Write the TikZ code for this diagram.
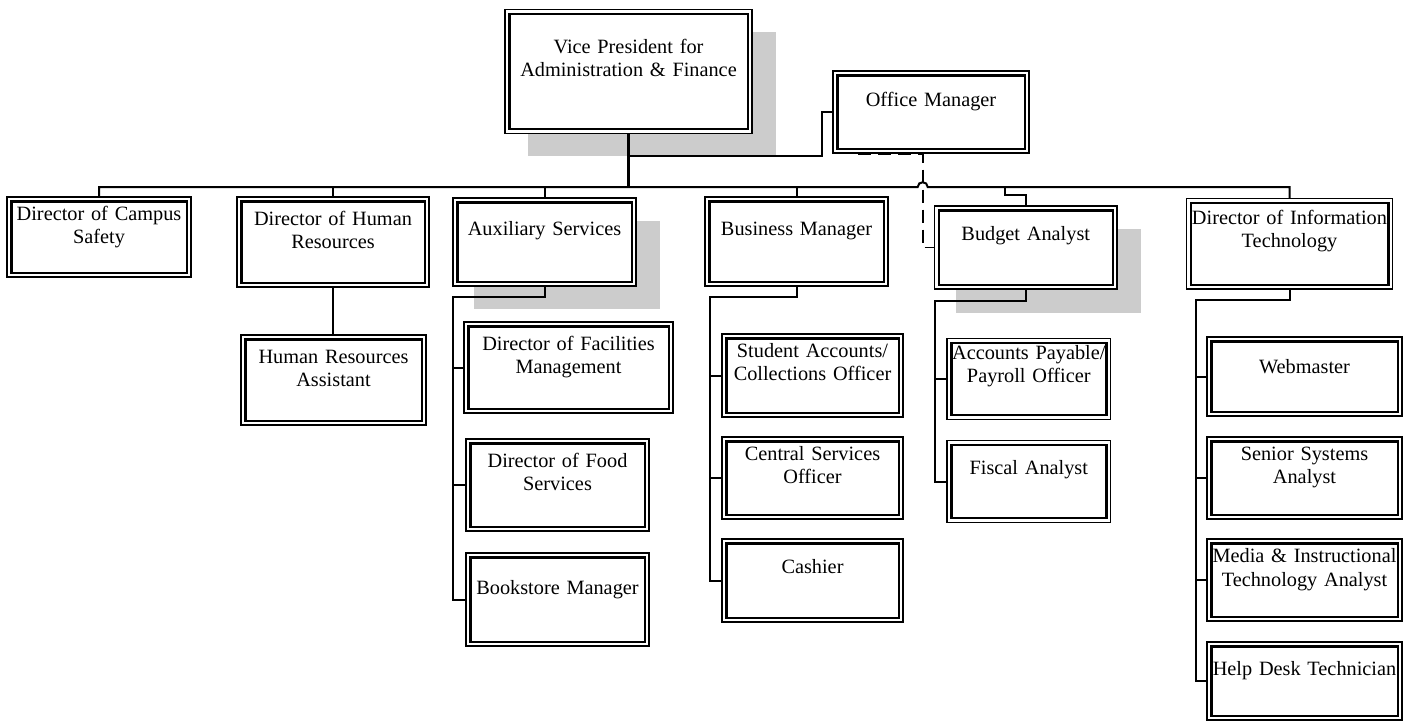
\documentclass[tikz,border=0pt]{standalone}
\usepackage{fontspec}
\setmainfont{Liberation Serif}
\begin{document}
\begin{tikzpicture}[x=1pt,y=-1pt,
  obox/.style={draw, line width=1.3pt, fill=white, rectangle, inner sep=0pt,
    path picture={\draw[line width=2.4pt] ([shift={(4.3pt,4.3pt)}]path picture bounding box.south west) rectangle ([shift={(-4.3pt,-4.3pt)}]path picture bounding box.north east);}},
  lbl/.style={anchor=base, align=center, text width=230pt, inner sep=0pt, font=\fontsize{20.3}{23.5}\selectfont},
  conn/.style={line width=2pt},
  shadowbox/.style={fill=gray!40, draw=none}]
\newcommand\orgbox[5]{\node[obox, minimum width={(#4)-(#2)}, minimum height={(#5)-(#3)}] (#1) at ({((#2)+(#4))/2},{((#3)+(#5))/2}) {};}
\useasboundingbox (0,0) rectangle (1414,721);
% shadows
\fill[shadowbox] (527.7,32.3) rectangle (775.7,155.7);
\fill[shadowbox] (474,221) rectangle (660,309);
\fill[shadowbox] (955.6,229) rectangle (1141,313);
% boxes
\orgbox{vp}{505}{9.5}{752}{133.5}
\orgbox{om}{833}{71}{1029}{153}
\orgbox{cs}{7}{197}{191}{277}
\orgbox{hr}{237}{197}{429}{287}
\orgbox{hra}{241}{335}{426}{425}
\orgbox{aux}{453}{198}{636}{286}
\orgbox{fac}{464}{322}{673}{413}
\orgbox{food}{466}{439}{649}{531}
\orgbox{book}{466}{553}{649}{646}
\orgbox{bm}{705}{197}{888}{286}
\orgbox{sa}{722}{334}{903}{417}
\orgbox{cso}{722}{437}{903}{519}
\orgbox{cash}{722}{539}{903}{622}
\orgbox{ba}{934.5}{206}{1117}{289}
\orgbox{ap}{947}{338.5}{1110.7}{419.3}
\orgbox{fis}{947}{440.7}{1110.7}{522.3}
\orgbox{dit}{1186.5}{198.7}{1392.6}{289}
\orgbox{web}{1207}{337}{1402}{416}
\orgbox{ssa}{1207}{437}{1402}{519}
\orgbox{mia}{1207}{539}{1402}{621}
\orgbox{hdt}{1207}{642}{1402}{720}
% texts
\node[lbl] (vpT) at (628.5,53.3) {Vice President for\\Administration \& Finance};
\node[lbl] (omT) at (931,106) {Office Manager};
\node[lbl] (csT) at (99,220) {Director of Campus\\Safety};
\node[lbl] (hrT) at (333,225) {Director of Human\\Resources};
\node[lbl] (hraT) at (333.5,363) {Human Resources\\Assistant};
\node[lbl] (auxT) at (544.5,235) {Auxiliary Services};
\node[lbl] (facT) at (568.5,350) {Director of Facilities\\Management};
\node[lbl] (foodT) at (557.5,467) {Director of Food\\Services};
\node[lbl] (bookT) at (557.5,594) {Bookstore Manager};
\node[lbl] (bmT) at (796.5,235) {Business Manager};
\node[lbl] (saT) at (812.5,357) {Student Accounts/\\Collections Officer};
\node[lbl] (csoT) at (812.5,460) {Central Services\\Officer};
\node[lbl] (cashT) at (812.5,573) {Cashier};
\node[lbl] (baT) at (1025.75,240) {Budget Analyst};
\node[lbl] (apT) at (1028.8,359.3) {Accounts Payable/\\Payroll Officer};
\node[lbl] (fisT) at (1028.8,474) {Fiscal Analyst};
\node[lbl] (ditT) at (1289.5,224) {Director of Information\\Technology};
\node[lbl] (webT) at (1304.5,373) {Webmaster};
\node[lbl] (ssaT) at (1304.5,460) {Senior Systems\\Analyst};
\node[lbl] (miaT) at (1304.5,562.7) {Media \& Instructional\\Technology Analyst};
\node[lbl] (hdtT) at (1304.5,675) {Help Desk Technician};
% bus
\coordinate (busL) at (99,187);
\coordinate (hopA) at (917.7,187);
\coordinate (hopB) at (927.7,187);
\draw[conn] (cs.north) -- (busL) -- (hopA) .. controls +(0,-6.3) and +(0,-6.3) .. (hopB) -- (dit.north |- busL) -- (dit.north);
\draw[line width=2.8pt] (vp.south) -- (vp.south |- busL);
\draw[conn] (hr.north) -- (hr.north |- busL);
\draw[conn] (aux.north) -- (aux.north |- busL);
\draw[conn] (bm.north) -- (bm.north |- busL);
\coordinate (baJ) at (1005,187);
\draw[conn] (baJ) -- ++(0,8) -| (ba.north);
% office manager
\coordinate (omJ) at (628.5,155.7);
\draw[line width=1.6pt] (omJ) -- (821.7,155.7) |- (om.west);
% dashed
\coordinate (dashS) at (858,154.2);
\draw[line width=1.6pt, dash pattern=on 13pt off 7pt] (dashS) -- (922.7,154.2) |- (ba.west);
% HR
\draw[conn] (hr.south) -- (hr.south |- hra.north);
% auxiliary
\coordinate (auxS) at (453,297);
\draw[conn] (aux.south) |- (auxS) |- (book.west);
\draw[conn] (fac.west) -- (fac.west -| auxS);
\draw[conn] (food.west) -- (food.west -| auxS);
% business
\coordinate (bmS) at (710,297);
\draw[conn] (bm.south) |- (bmS) |- (cash.west);
\draw[conn] (sa.west) -- (sa.west -| bmS);
\draw[conn] (cso.west) -- (cso.west -| bmS);
% budget
\coordinate (baS) at (935,301);
\draw[conn] (ba.south) |- (baS) |- (fis.west);
\draw[conn] (ap.west) -- (ap.west -| baS);
% IT
\coordinate (ditS) at (1195.7,300);
\draw[conn] (dit.south) |- (ditS) |- (hdt.west);
\draw[conn] (web.west) -- (web.west -| ditS);
\draw[conn] (ssa.west) -- (ssa.west -| ditS);
\draw[conn] (mia.west) -- (mia.west -| ditS);
\end{tikzpicture}
\end{document}
